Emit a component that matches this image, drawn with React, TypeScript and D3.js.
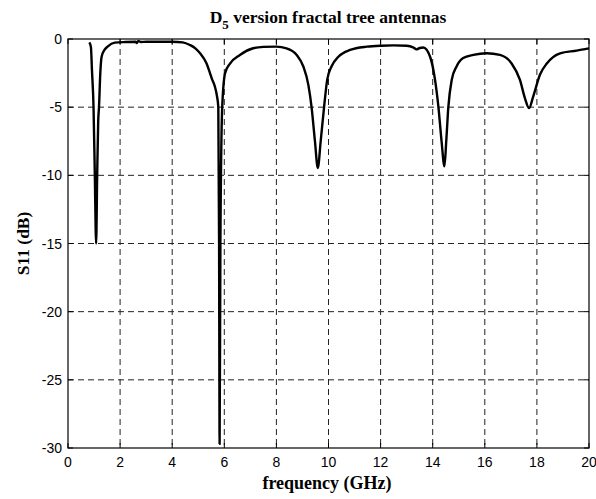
import React from "react";
import * as d3 from "d3";

const freq = [
  0.82, 0.88, 0.92, 0.98, 1.03, 1.08, 1.12, 1.16, 1.19, 1.24, 1.29, 1.4, 1.52, 1.8,
  2.2, 2.6, 2.64, 2.7, 2.8, 3.0, 3.5, 4.0, 4.4, 4.68, 4.9, 5.07, 5.32, 5.45, 5.52,
  5.64, 5.72, 5.77, 5.8, 5.82, 5.85, 5.92, 6.03, 6.22, 6.6, 7.11, 7.5, 8.0, 8.39,
  8.78, 9.03, 9.23, 9.35, 9.48, 9.59, 9.7, 9.83, 9.95, 10.12, 10.38, 10.83, 11.47,
  12.0, 12.5, 13.0, 13.25, 13.38, 13.5, 13.64, 13.9, 14.09, 14.22, 14.34, 14.45,
  14.52, 14.6, 14.73, 14.92, 15.17, 15.56, 16.07, 16.58, 17.03, 17.35, 17.54, 17.7,
  17.86, 18.12, 18.38, 18.89, 19.53, 20,
];
const s11 = [
  -0.25, -0.6, -2.3, -5, -10, -15, -10, -6, -5, -2.5, -1.3, -0.8, -0.56, -0.27,
  -0.22, -0.2, -0.3, -0.15, -0.22, -0.2, -0.2, -0.2, -0.25, -0.44, -0.7, -1.05, -1.8, -2.5, -2.9,
  -3.5, -4.2, -5, -15, -29.7, -15, -5, -2.5, -1.8, -1.17, -0.68, -0.58, -0.56, -0.68,
  -1.17, -2.0, -3.4, -5, -7.5, -9.46, -7.5, -5, -3.0, -2.0, -1.3, -0.8, -0.56,
  -0.49, -0.47, -0.5, -0.62, -0.76, -0.66, -0.62, -1.3, -3.0, -5, -7.5, -9.34,
  -7.5, -5, -3.0, -2.0, -1.4, -1.17, -1.05, -1.17, -1.8, -3.0, -4.34, -5.07,
  -4.2, -2.6, -1.8, -1.05, -0.85, -0.68,
];
const xTicks = [0, 2, 4, 6, 8, 10, 12, 14, 16, 18, 20];
const yTicks = [0, -5, -10, -15, -20, -25, -30];

const W = 596;
const H = 499;
const L = 68;
const R = 589;
const T = 39;
const B = 448;

export default function App() {
  const x = d3.scaleLinear().domain([0, 20]).range([L, R]);
  const y = d3.scaleLinear().domain([-30, 0]).range([B, T]);
  const pts: [number, number][] = freq.map((f, i) => [f, s11[i]]);
  const line = d3
    .line<[number, number]>()
    .x((d) => x(d[0]))
    .y((d) => y(d[1]))
    .curve(d3.curveMonotoneX);
  const tickFont = "'Liberation Sans', Arial, sans-serif";
  const serif = "'Liberation Serif', 'Times New Roman', serif";
  return (
    <svg
      width={W}
      height={H}
      style={{ position: "absolute", left: 0, top: 0, background: "#fff" }}
    >
      <rect x={0} y={0} width={W} height={H} fill="#fff" />
      {/* grid */}
      {xTicks.slice(1, -1).map((t) => (
        <line
          key={"gx" + t}
          x1={x(t)}
          x2={x(t)}
          y1={T}
          y2={B}
          stroke="#222"
          strokeWidth={1}
          strokeDasharray="6,4"
        />
      ))}
      {yTicks.slice(1, -1).map((t) => (
        <line
          key={"gy" + t}
          x1={L}
          x2={R}
          y1={y(t)}
          y2={y(t)}
          stroke="#222"
          strokeWidth={1}
          strokeDasharray="6,4"
        />
      ))}
      {/* ticks */}
      {xTicks.map((t) => (
        <g key={"tx" + t}>
          <line x1={x(t)} x2={x(t)} y1={B} y2={B - 5} stroke="#000" />
          <line x1={x(t)} x2={x(t)} y1={T} y2={T + 5} stroke="#000" />
          <text
            x={x(t)}
            y={467}
            textAnchor="middle"
            fontFamily={tickFont}
            fontSize={14}
            fill="#000"
          >
            {t}
          </text>
        </g>
      ))}
      {yTicks.map((t) => (
        <g key={"ty" + t}>
          <line x1={L} x2={L + 5} y1={y(t)} y2={y(t)} stroke="#000" />
          <line x1={R} x2={R - 5} y1={y(t)} y2={y(t)} stroke="#000" />
          <text
            x={62}
            y={y(t) + 5}
            textAnchor="end"
            fontFamily={tickFont}
            fontSize={14}
            fill="#000"
          >
            {t}
          </text>
        </g>
      ))}
      {/* data */}
      <path d={line(pts) || ""} fill="none" stroke="#000" strokeWidth={2.4} strokeLinejoin="round" />
      {/* box */}
      <rect x={L} y={T} width={R - L} height={B - T} fill="none" stroke="#000" strokeWidth={1.2} />
      {/* title */}
      <text
        x={328}
        y={23}
        textAnchor="middle"
        fontFamily={serif}
        fontWeight="bold"
        fontSize={17.5}
        fill="#000"
      >
        D<tspan dy={6} fontSize={13}>5</tspan>
        <tspan dy={-6}> version fractal tree antennas</tspan>
      </text>
      <text
        x={327}
        y={489}
        textAnchor="middle"
        fontFamily={serif}
        fontWeight="bold"
        fontSize={18}
        fill="#000"
      >
        frequency (GHz)
      </text>
      <text
        transform={`translate(29,${(T + B) / 2}) rotate(-90)`}
        textAnchor="middle"
        fontFamily={serif}
        fontWeight="bold"
        fontSize={17.5}
        fill="#000"
      >
        S11 (dB)
      </text>
    </svg>
  );
}
